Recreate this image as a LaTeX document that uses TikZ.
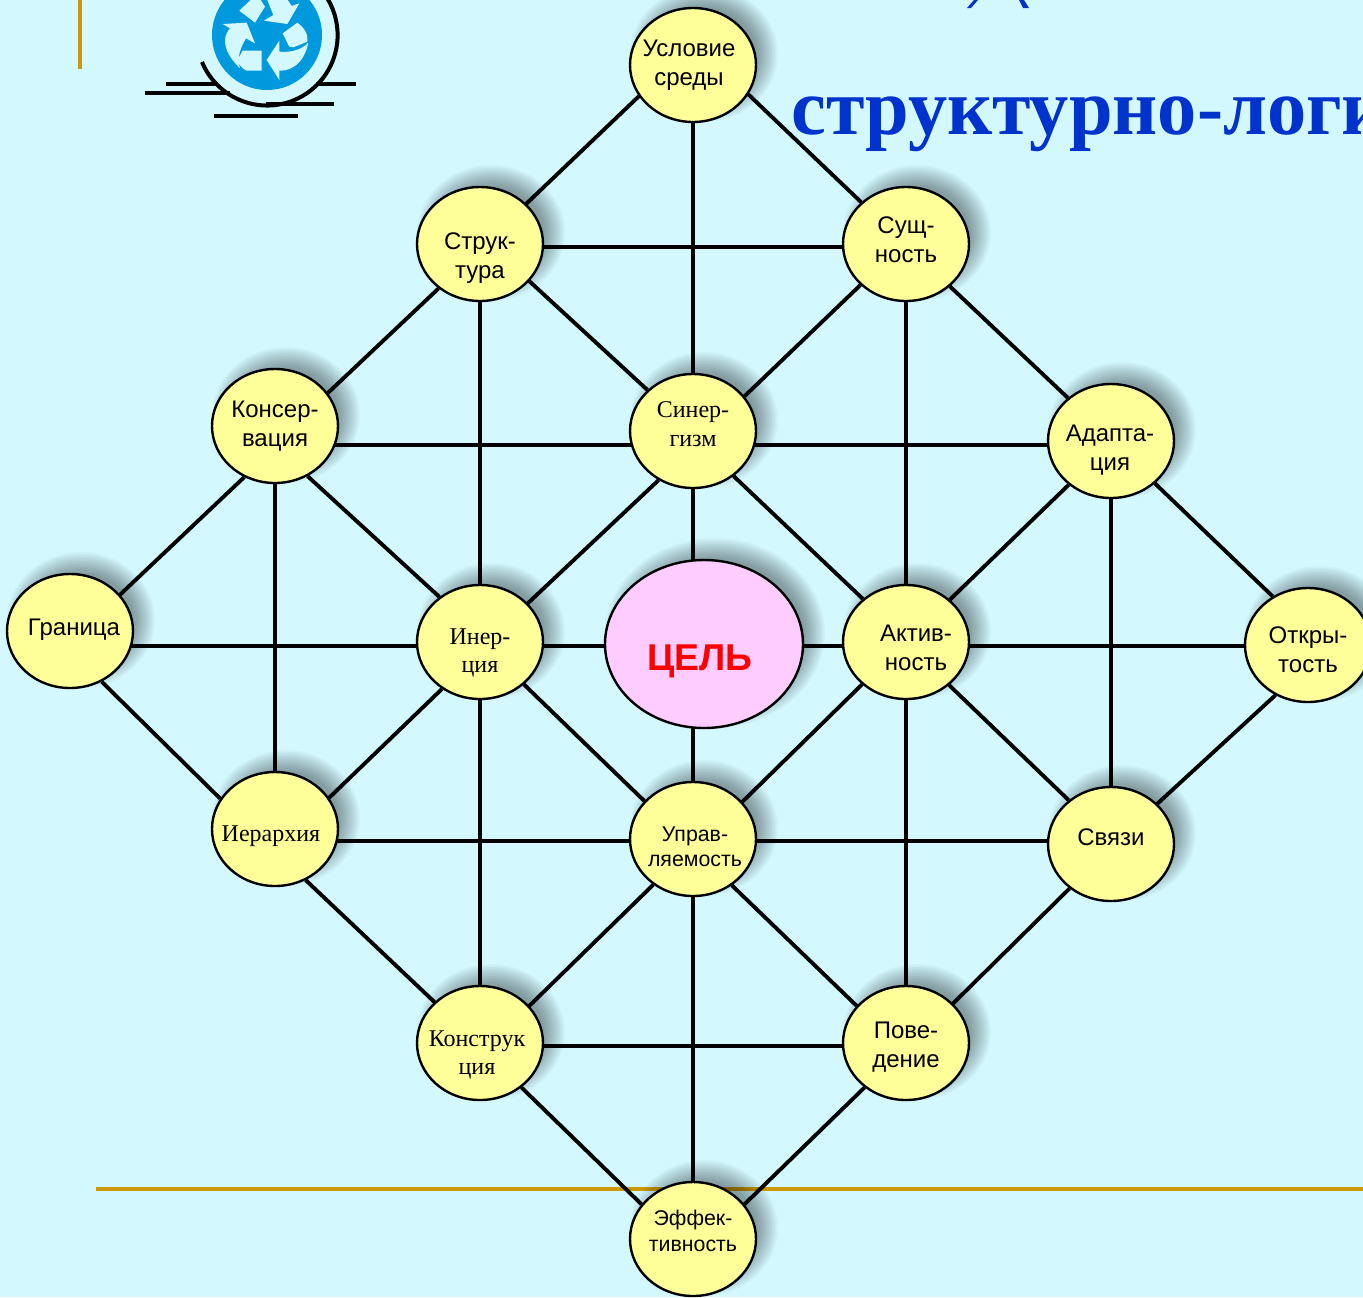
\documentclass[tikz,border=0pt]{standalone}
\usepackage{fontspec}
\setmainfont{Liberation Sans}
\newfontfamily\tmsfont{Liberation Serif}
\newfontfamily\titlefont[FakeStretch=0.98]{Liberation Serif}
\usetikzlibrary{shapes.geometric}
\pgfdeclarelayer{backdrop}
\pgfdeclarelayer{links}
\pgfdeclarelayer{shades}
\pgfsetlayers{backdrop,links,shades,main}
\definecolor{bgcyan}{HTML}{D3F9FF}
\definecolor{goldline}{HTML}{CC9900}
\definecolor{bubfill}{HTML}{FFFF99}
\definecolor{goalfill}{HTML}{FFCCFF}
\definecolor{titleblue}{HTML}{0033CC}
\definecolor{logoblue}{HTML}{0099DD}
\tikzset{
  bub/.style={ellipse,draw=black,line width=1.8pt,fill=bubfill,minimum width=94.5pt,minimum height=85.5pt,inner sep=0pt},
  goal/.style={ellipse,draw=black,line width=1.8pt,fill=goalfill,minimum width=148.5pt,minimum height=126pt,inner sep=0pt},
  lab/.style={align=center,inner sep=0pt,font=\fontsize{18}{21.6}\selectfont},
  labs/.style={align=center,inner sep=0pt,font=\fontsize{16}{19}\selectfont},
  labt/.style={align=center,inner sep=0pt,font=\tmsfont\fontsize{18}{21.6}\selectfont},
  link/.style={line width=2.9pt,black,line cap=butt},
  rule/.style={goldline,line width=2.6pt},
  logoline/.style={black,line width=3pt},
}
\newcommand{\shadeell}[4]{%
  \begin{pgfonlayer}{shades}
  \foreach \d in {-10,-8.5,...,11}{
    \fill[black,opacity=.028] ({#1+11},{#2-11}) ellipse [x radius={#3+\d},y radius={#4+\d}];
  }
  \end{pgfonlayer}}
\newcommand{\bubble}[7]{%
  \shadeell{#2}{#3}{63}{57}
  \node[bub] (#1) at (#2,#3) {};
  \node[#6] (#1t) at (#4,#5) {#7};}
\begin{document}
\begin{tikzpicture}[x=0.75pt,y=-0.75pt]
\useasboundingbox (0,0) rectangle (1363,1297);
\begin{pgfonlayer}{backdrop}
  \fill[bgcyan] (0,0) rectangle (1363,1297);
  \draw[rule] (80,0) -- (80,69);
  \draw[rule] (96,1189) -- (1363,1189);
  % logo
  \draw[logoline] (166,84) -- (218,84);
  \draw[logoline] (145,93) -- (230,93);
  \draw[logoline] (316,84) -- (356,84);
  \draw[logoline] (266,104) -- (334,104);
  \draw[logoline] (214,115.5) -- (298,115.5);
  \fill[logoblue] (267,35) circle (55);
  \draw[black,line width=3pt] (202,62) arc[start angle=157.5,end angle=-31,radius=70.5];
  \begin{scope}[shift={(60,0)},scale=1/3]
    \fill[bgcyan] (488,72) -- (560,68) -- (585,130) -- (558,115) .. controls (540,145) and (530,175) .. (540,205) .. controls (510,175) and (495,150) .. (495,120) .. controls (495,105) and (505,90) .. (510,85) -- cycle;
    \fill[bgcyan] (620,180) -- (658,122) -- (658,155) .. controls (690,158) and (725,150) .. (745,128) .. controls (738,165) and (715,212) .. (658,212) -- (658,240) -- cycle;
    \fill[bgcyan] (612,62) -- (640,45) -- (620,-5) -- (680,-5) -- (695,18) -- (718,10) -- (682,72) -- cycle;
    \fill[bgcyan] (538,32) -- (575,-3) -- (600,-3) -- (615,20) -- (585,68) -- cycle;
    \fill[bgcyan] (668,100) -- (712,68) .. controls (730,80) and (745,100) .. (742,125) -- (700,142) -- (688,140) -- cycle;
    \fill[bgcyan] (548,152) -- (605,152) -- (605,212) -- (560,212) .. controls (545,205) and (530,190) .. (535,175) -- cycle;
  \end{scope}
  % title
  \node[anchor=base west,inner sep=0pt,text=titleblue,font=\titlefont\bfseries\fontsize{60}{60}\selectfont] (title) at (791,134) {структурно-логи};
  \fill[titleblue] (974,0) -- (967,8) -- (971,8) -- (978,0) -- cycle;
  \fill[titleblue] (1019,0) -- (1023,8) -- (1029,8) -- (1024,0) -- cycle;
\end{pgfonlayer}

\bubble{usl}{693}{65}{689}{65}{lab}{Условие\\среды}
\bubble{str}{480}{244}{480}{258}{lab}{Струк-\\тура}
\bubble{sus}{906}{244}{906}{240}{lab}{Сущ-\\ность}
\bubble{kon}{275}{426}{275}{426}{lab}{Консер-\\вация}
\bubble{syn}{693}{431}{693}{424}{labt}{Синер-\\гизм}
\bubble{ada}{1111}{441}{1110}{450}{lab}{Адапта-\\ция}
\bubble{gra}{70}{631}{74}{630}{lab}{Граница}
\bubble{ine}{480}{642}{480}{653}{labt}{Инер-\\ция}
\bubble{akt}{906}{642}{916}{648}{lab}{Актив-\\ность}
\bubble{otk}{1308}{645}{1308}{650}{lab}{Откры-\\тость}
\bubble{ier}{275}{829}{271}{836}{labt}{Иерархия}
\bubble{upr}{693}{839}{695}{847}{labs}{Управ-\\ляемость}
\bubble{svy}{1111}{844}{1111}{837}{lab}{Связи}
\bubble{kst}{480}{1043}{477}{1055}{labt}{Конструк\\ция}
\bubble{pov}{906}{1043}{906}{1047}{lab}{Пове-\\дение}
\bubble{eff}{693}{1239}{693}{1231}{labs}{Эффек-\\тивность}

\shadeell{704}{644}{99}{84}
\node[goal] (goal) at (704,644) {};
\node[inner sep=0pt,text=red,font=\bfseries\fontsize{28}{28}\selectfont] (goalt) at (700,661) {ЦЕЛЬ};

\coordinate (row247) at (0,247);
\coordinate (row445) at (0,445);
\coordinate (row646) at (0,646);
\coordinate (row841) at (0,841);
\coordinate (row1046) at (0,1046);

\begin{pgfonlayer}{links}
  \foreach \a/\b in {%
    usl.210/str.41, usl.332/sus.137, usl.south/syn.north,
    str.227/kon.32, str.south/ine.north, str.323/syn.138,
    sus.222/syn.34, sus.316/ada.135, sus.south/akt.north,
    kon.239/gra.36, kon.south/ier.north, kon.303/ine.132,
    syn.235/ine.39, syn.312/akt.135,
    ada.226/akt.44, ada.316/otk.126, ada.south/svy.north,
    gra.302/ier.151,
    ine.231/ier.30, ine.south/kst.north, ine.316/upr.142,
    akt.224/upr.37, akt.south/pov.north, akt.315/svy.134,
    otk.237/svy.41,
    ier.301/kst.138, upr.229/kst.37, upr.310/pov.143, upr.south/eff.north,
    svy.227/pov.40, kst.313/eff.146, pov.227/eff.34%
  }{
    \draw[link] (\a) -- (\b);
  }
  % level rows, hidden behind the nodes at both ends
  \draw[link] (str |- row247) -- (sus |- row247);
  \draw[link] (kon |- row445) -- (ada |- row445);
  \draw[link] (gra |- row646) -- (otk |- row646);
  \draw[link] (ier |- row841) -- (svy |- row841);
  \draw[link] (kst |- row1046) -- (pov |- row1046);
  % the goal's links up and down
  \draw[link] (syn.south) -- (syn |- goal);
  \draw[link] (syn |- goal) -- (upr.north);
\end{pgfonlayer}
\end{tikzpicture}
\end{document}
